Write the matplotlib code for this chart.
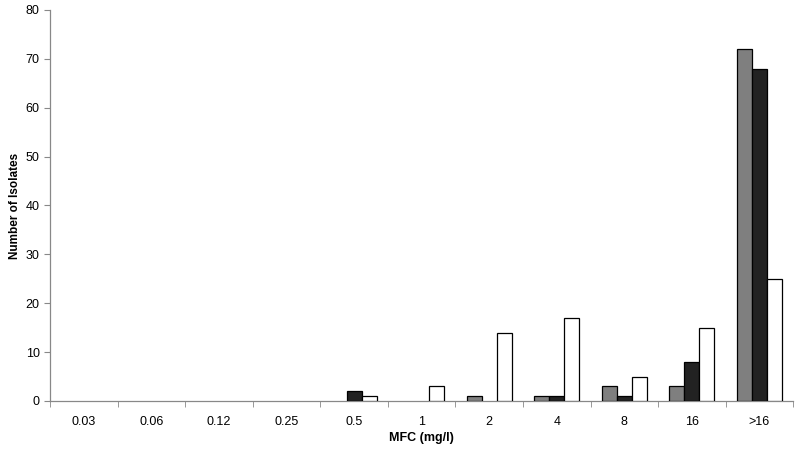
import matplotlib
matplotlib.use("Agg")
import matplotlib.pyplot as plt
import numpy as np

plt.rcParams['font.family'] = ['Liberation Sans', 'DejaVu Sans']

categories = ["0.03", "0.06", "0.12", "0.25", "0.5", "1", "2", "4", "8", "16", ">16"]
series_gray = [0, 0, 0, 0, 0, 0, 1, 1, 3, 3, 72]
series_dark = [0, 0, 0, 0, 2, 0, 0, 1, 1, 8, 68]
series_white = [0, 0, 0, 0, 1, 3, 14, 17, 5, 15, 25]

fig = plt.figure(figsize=(8.0, 4.53), dpi=100)
ax = fig.add_axes([0.0625, 0.1148, 0.929, 0.8632])

x = np.arange(len(categories))
w = 1 / 4.5
colors = ["#7f7f7f", "#222222", "#ffffff"]
for i, (vals, c) in enumerate(zip([series_gray, series_dark, series_white], colors)):
    vals = np.array(vals)
    m = vals > 0
    ax.bar(x[m] + (i - 1) * w, vals[m], width=w, color=c, edgecolor="black", linewidth=0.9, zorder=3)

ax.set_xlim(-0.5, len(categories) - 0.5)
ax.set_ylim(0, 80)
ax.set_yticks(np.arange(0, 81, 10))
ax.set_xticks(x)
ax.set_xticklabels(categories, fontsize=9)
ax.set_xticks(np.arange(-0.5, len(categories) + 0.5, 1), minor=True)
ax.tick_params(axis='x', which='major', length=0, pad=11)
ax.tick_params(axis='x', which='minor', length=4, color="#888888", direction='out')
ax.tick_params(axis='y', length=4, color="#888888", labelsize=9, direction='out')

for s in ["top", "right"]:
    ax.spines[s].set_visible(False)
for s in ["left", "bottom"]:
    ax.spines[s].set_color("#888888")
    ax.spines[s].set_linewidth(0.9)

ax.set_ylabel("Number of Isolates", fontsize=8.5, fontweight='bold', labelpad=3)
ax.set_xlabel("MFC (mg/l)", fontsize=9, fontweight='bold', labelpad=3)

fig.savefig("out.png", dpi=100)
